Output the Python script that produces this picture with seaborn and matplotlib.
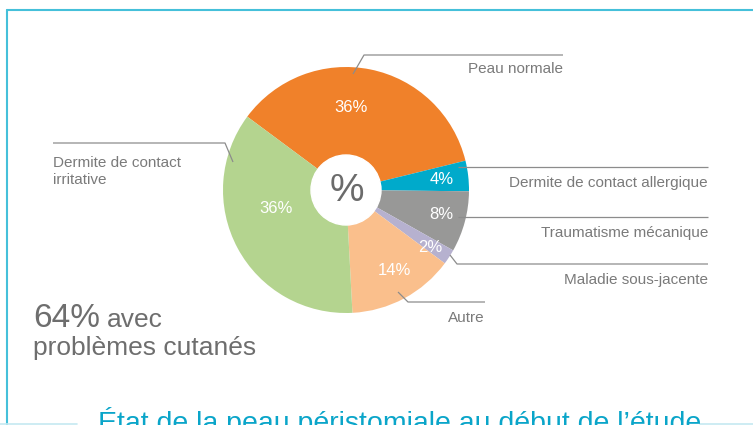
import matplotlib
matplotlib.use("Agg")
import matplotlib.pyplot as plt
from matplotlib.patches import Circle
import numpy as np
import seaborn as sns

# ---- data ----
categories = ["Peau normale", "Dermite de contact allergique", "Traumatisme mécanique",
              "Maladie sous-jacente", "Autre", "Dermite de contact\nirritative"]
values = [36, 4, 8, 2, 14, 36]
pct_labels = ["36%", "4%", "8%", "2%", "14%", "36%"]
colors = ["#F0812A", "#00AACB", "#989897", "#B6B1CF", "#FABF8C", "#B4D48F"]
headline_big = "64%"
headline_small = "avec"
headline_line2 = "problèmes cutanés"
title = "État de la peau péristomiale au début de l’étude"

sns.set_theme(style="white")
plt.rcParams['font.family'] = ['Liberation Sans', 'DejaVu Sans']

W, H = 753, 425
fig = plt.figure(figsize=(W / 100, H / 100), dpi=100)
ax = fig.add_axes([0, 0, 1, 1])


def Y(py):
    return H - py


cx, cy, R = 346, Y(190), 123
wedges, _ = ax.pie(values, colors=colors, startangle=143.4, counterclock=False,
                   center=(cx, cy), radius=R, wedgeprops=dict(linewidth=0))
ax.add_patch(Circle((cx, cy), 35, color="white", zorder=5))
ax.text(cx + 1, cy - 1, "%", ha="center", va="center", fontsize=28, color="#6b6b6b", zorder=6)

# percentage labels (angle offset from wedge middle, radial fraction)
lbl_dang = [7.9, -0.6, 0.3, -1.3, 2.8, -13.8]
lbl_r = [0.675, 0.78, 0.80, 0.83, 0.76, 0.59]
for w, t, da, rf in zip(wedges, pct_labels, lbl_dang, lbl_r):
    mid = np.deg2rad((w.theta1 + w.theta2) / 2 + da)
    ax.text(cx + rf * R * np.cos(mid), cy + rf * R * np.sin(mid), t, ha="center", va="center",
            fontsize=12, color="white", zorder=4)

# leader lines (pixel coords) and labels
line_col = "#8c8c8c"
txt_col = "#7a7a7a"
leaders = [
    [(353, 74), (364, 55), (563, 55)],
    [(458, 167), (708, 167)],
    [(458, 217), (708, 217)],
    [(450, 255), (457, 264), (708, 264)],
    [(398, 292), (408, 302), (485, 302)],
    [(233, 162), (225, 143), (53, 143)],
]
label_pos = [(563, 73, "right"), (708, 187, "right"), (708, 237, "right"),
             (708, 284, "right"), (485, 322, "right"), (53, 184, "left")]
for pts, cat, (tx, ty, ha) in zip(leaders, categories, label_pos):
    ax.plot([p[0] for p in pts], [Y(p[1]) for p in pts], color=line_col, lw=0.9, zorder=7,
            solid_capstyle="butt")
    ax.text(tx, Y(ty), cat, ha=ha, va="baseline", fontsize=11, color=txt_col,
            linespacing=1.25)

# headline
ax.text(33, Y(327), headline_big, ha="left", va="baseline", fontsize=24, color="#6e6e6e")
ax.text(107, Y(327), headline_small, ha="left", va="baseline", fontsize=19, color="#6e6e6e")
ax.text(33, Y(355), headline_line2, ha="left", va="baseline", fontsize=19, color="#6e6e6e")

# title (clipped at bottom in the reference)
ax.text(400, Y(431), title, ha="center", va="baseline", fontsize=20.5, color="#0AA5C9")

# frame
fc = "#45C0DA"
ax.plot([7, W], [Y(10), Y(10)], color=fc, lw=1.5)
ax.plot([7, 7], [Y(10), Y(H)], color=fc, lw=1.5)
ax.plot([0, 77], [Y(424), Y(424)], color="#C5E9F1", lw=1.2)
ax.plot([700, W], [Y(424), Y(424)], color="#C5E9F1", lw=1.2)

ax.set_xlim(0, W)
ax.set_ylim(0, H)
ax.set_aspect("auto")
ax.axis("off")
fig.savefig("out.png", dpi=100)
